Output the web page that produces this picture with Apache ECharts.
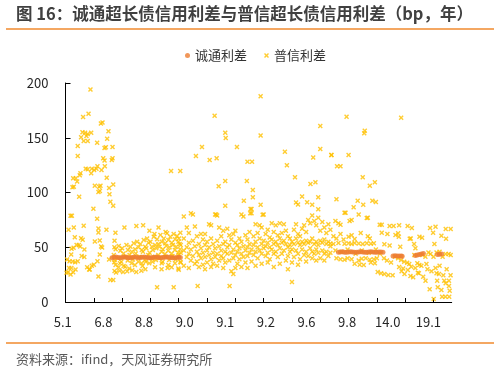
<!DOCTYPE html>
<html><head><meta charset="utf-8">
<script src="https://cdn.jsdelivr.net/npm/echarts@6/dist/echarts.min.js"></script>
<style>html,body{margin:0;padding:0;background:#fff}#c{width:499px;height:372px}</style>
</head><body><div id="c"></div>
<script>
// x-axis category labels (remaining maturity, years)
const xLabels = ['5.1','6.8','8.8','9.0','9.1','9.2','9.6','9.8','14.0','19.1'];
const yMin = 0, yMax = 200, yStep = 50;
const nCategories = 382;
const tickEvery = 28;

// 诚通利差 (bp) : [category index, spread]
const chengtongA = [[46,40.5],[48,40.8],[50,41],[52,40.6],[54,40.4],[56,40.7],[58,41.1],[60,40.9],[62,40.5],[64,40.3],[66,40.6],[68,41],[70,40.8],[72,40.5],[74,40.7],[76,40.9],[78,41.2],[80,40.8],[82,40.5],[84,40.4],[86,40.6],[88,40.9],[90,41],[92,40.7],[94,40.5],[96,40.6],[98,40.8],[100,41],[102,40.9],[104,40.6],[106,40.4],[108,40.5],[110,40.7],[112,40.9],[113.6,40.6]];
const chengtongB = [[270,45.5],[272,45.6],[274,45.8],[276,45.4],[278,45.5],[280,45.7],[282,45.9],[284,45.6],[286,45.4],[288,45.5],[290,45.7],[292,45.8],[294,45.6],[296,45.4],[298,45.5],[300,45.6],[302,45.8],[304,45.7],[306,45.5],[308,45.4],[310,45.6],[312,45.7],[314,45.5]];
const chengtongC = [[324,42],[326,42.2],[328,41.9],[330,42.1],[332,42],[333,41.8]];
const chengtongD = [[346,42.4],[348,42.9],[350,43.4],[352,43.9],[354,44.2]];
const chengtongE = [[368,43.4],[370,43.6],[372,43.8]];

// 普信利差 (bp) : [category index, spread]
const puxin1 = [[24.7,194],[22.8,172],[17.4,169],[35,163],[36.6,164],[42.5,156],[16.8,155],[19.4,154.6],[22,153.4],[25.4,154.6],[20.7,151.6],[18,147],[22,147],[12.1,142.5],[15.4,150.4],[31.3,145.5],[41.2,149],[39.9,141.3],[38.6,140.7],[46.5,141.6],[12.1,133.3],[37.3,131.3],[38.6,129.2],[38.9,124],[46.5,131.3],[45.8,129.7],[35.6,120.5],[20,121.8],[22,121.2],[30.6,121.8],[28.3,120.5],[31.6,124],[26,121.8],[14.8,117.5],[14.1,115.7],[25.4,117.5],[7.6,113],[10.2,113],[11.5,110],[8.2,105.3],[6.9,104.7],[34.6,106.2],[33.3,105.3],[40.8,113.5],[29,106.2],[47.2,107.4],[34,101.4],[32.6,100.4],[43.1,104],[13.5,96.2],[43.5,98.3],[44.4,91.6],[47.2,88],[27.6,85.2],[5,78.8],[6.3,78.8],[31.3,76],[3,66],[32.6,67.2],[32.6,63.5],[40.5,66],[18,69.6],[15.4,58.3],[17,56.8],[9.2,59.2],[13.2,52],[14.5,50.7],[33.9,56.2],[35.2,50.7],[36.2,49.8],[6,48.6],[8,49.5],[29,55.3],[1.6,38.8],[4,37.3],[2.6,27.2],[1,26.6],[5,25.1],[7.6,27.2],[9.9,29.6],[9.5,36.4],[5.6,43.4],[24,29.6],[26,33.2],[28,34.1],[21.4,31.7],[23.4,29.6],[32.6,23.2],[31.6,37.3],[33.9,43.4],[43.1,38.8],[44.4,20],[47.2,20],[48.5,28.2],[48.2,36.2],[49.4,63.3],[48.5,56],[12.1,37.3],[16,42],[18.6,41],[18.7,48],[8.2,68],[3.5,31],[5.8,31],[7,37],[11,52]];
const puxin2 = [[48.4,49.9],[49.6,48.1],[47.8,42.9],[48.6,38.4],[49.5,33.8],[52.7,51.1],[54.2,46.9],[51.9,39.9],[53.9,35.3],[52.5,31.7],[56,49],[57.4,44.4],[55.2,36.8],[57.5,32.9],[60.3,52.1],[61.8,47.5],[59.4,41.4],[61.5,37.8],[59.1,32.3],[64.2,50.5],[65.6,46],[63.4,42.9],[65.4,35.3],[63,30.7],[67.5,53.6],[68.9,48.1],[66.6,38.9],[68.7,33.8],[70.8,55.1],[72.2,49.9],[69.5,44.4],[72,36.8],[74.1,53],[75.5,47.5],[73.2,41.4],[75.3,35.3],[77.4,56.6],[78.8,50.5],[76.6,46],[78.6,38.4],[76.2,32.9],[80.7,58.1],[82.1,54.2],[79.9,49],[81.9,42.9],[79.5,36.8],[84,55.1],[85.4,50.5],[83.2,45],[85.2,39.9],[82.8,35.3],[87.3,59.7],[88.7,52.1],[86.4,47.5],[88.5,41.4],[86.1,36.8],[88.6,31.7],[90.6,57.2],[92,53],[89.8,49],[91.8,42.9],[89.4,38.4],[93.9,61.2],[95.3,55.1],[93,50.5],[95.1,46],[92.7,39.9],[95.2,35.3],[97.2,58.1],[98.6,53.6],[96.3,48.1],[98.4,43.8],[96,36.8],[100.4,62.7],[101.8,56.6],[99.6,51.1],[101.6,46.9],[99.2,41.4],[101.7,33.8],[103.7,59.7],[105.1,54.2],[102.9,49.9],[104.9,44.4],[102.5,38.4],[105,31.7],[107,62.1],[108.4,57.2],[106.2,52.1],[108.2,47.5],[105.8,42],[108.3,35.3],[110.3,60.3],[111.7,55.1],[109.5,50.5],[111.5,45],[109.1,38.9],[111.6,30.7],[113.6,63.3],[112.2,58.1],[112.9,53],[113.4,48.1],[112,42.9],[113.5,36.8],[50,27],[53.5,28.5],[57,27.5],[61,28],[66,29],[70,27.5],[75,28.5],[79,30],[58.3,68],[70.1,69.4],[76.8,70],[83,65],[88,62],[92,68],[99,64],[104.4,119.6],[90.6,13.4],[107,13.4],[95,30],[101,31],[112,29.5]];
const puxin3 = [[114,52],[114,45],[114,36],[117,78],[117,58],[117,47],[117,33],[120,68],[120,50],[120,41],[122,63],[122,54],[122,44],[122,31],[124,81],[124,48],[124,38],[126,80],[126,56],[126,42],[128,69],[128,51],[128,35],[130,60],[130,46],[130,37],[130.7,14.6],[132,53],[132,43],[132,32],[134,62],[134,49],[134,40],[136,57],[136,45],[136,34],[138,62],[138,52],[138,41],[138,30],[140,55],[140,47],[140,36],[142,71],[142,50],[142,43],[144,70],[144,58],[144,39],[144,32],[146,53],[146,45],[146,35],[148,80],[148,49],[148,41],[150,79],[150,56],[150,44],[150,33],[152,68],[152,51],[152,38],[154,60],[154,47],[154,42],[156,65],[156,53],[156,40],[156,31],[158,55],[158,46],[158,36],[160,67],[160,50],[160,44],[162,61],[162,52],[162,38],[162.3,14.6],[164,57],[164,45],[164,28],[166,62],[166,48],[166,40],[166,25.6],[168,65],[168,54],[168,43],[168,31],[170,52],[170,46],[170,35],[172,58],[172,49],[172,39],[174,80],[174,55],[174,44],[174,32],[176,78],[176,51],[176,41],[178,61],[178,47],[178,36],[180,57],[180,50],[180,42],[180,31],[182,64],[182,53],[182,45],[184,85],[184,81],[184,48],[184,37],[186,60],[186,52],[186,43],[188,71],[188,55],[188,46],[188,33],[190,63],[190,50],[190,40],[192,70],[192,58],[192,47],[194,68],[194,53],[194,44],[194,35],[196,80],[196,56],[196,49],[198,62],[198,51],[198,42],[200,66],[200,54],[200,45],[200,36],[202,59],[202,50],[202,39],[204,72],[204,57],[204,48],[206,64],[206,53],[206,44],[206,32],[208,70],[208,55],[208,46],[210,61],[210,52],[210,41],[212,72],[212,58],[212,49],[212,35],[214,63],[214,54],[214,44],[216,71],[216,56],[216,47],[218,65],[218,53],[218,38],[220,60],[220,50],[220,42],[220,30],[222,58],[222,52],[222,46],[224,18.3],[224,55],[224,48],[224,36],[226,66],[226,53],[226,41],[228,71],[228,58],[228,47],[230,62],[230,54],[230,44],[230,34],[232,60],[232,52],[232,39],[234,67],[234,55],[234,48],[236,70],[236,53],[236,43],[238,64],[238,56],[238,46],[238,37],[240,75],[240,54],[240,42],[242,72],[242,55],[242,49],[244,79],[244,58],[244,46],[244,40],[246,74],[246,53],[246,44],[248,70],[248,55],[248,48],[248,38],[250,77],[250,52],[250,45],[252,65],[252,56],[252,40],[254,73],[254,54],[254,47],[256,68],[256,57],[256,44],[256,38],[258,63],[258,53],[258,46],[260,71],[260,55],[260,42],[262,66],[262,51],[262,45]];
const puxin3High = [[193,188],[147.5,170],[158,154.6],[158.5,149.8],[193,152],[135,141.5],[169.6,141.5],[129,133.3],[142.6,129.7],[149.5,131.2],[180,128],[184.5,128],[217,137.3],[219,124.8],[245,132],[252,139.7],[252,160.7],[263,134.2],[268.6,123.9],[113.5,119.6],[158,110.5],[151.5,105.6],[179.4,110.5],[185.3,102.3],[185.3,95.6],[176.4,92.5],[227,113.9],[242.3,107.8],[247.2,109.3],[158,88],[193,88.9],[183,85],[182.7,81],[195,79.7],[149,80],[228,90.9],[230,89],[234,96.4],[239,91],[244,88.9],[250,95.6],[250,84.6]];
const puxin4 = [[278,169.2],[332,168.3],[296,156.4],[295.5,154],[263,134.2],[280,134.2],[272,124],[294,114],[306,109.3],[301,106.2],[268,93.8],[289,92.5],[285,86.5],[294.5,88.9],[303.5,92.5],[307,91.3],[277,81.5],[276,81.5],[290,80],[298,76.7],[299,77],[283,75],[281,74],[267,74],[270,72],[272,70.5],[310.8,70.6],[312.8,70.6],[320.6,69.4],[324.5,69.4],[330,70],[338.4,69.4],[342.6,67.6],[360.6,67.6],[366,68.8],[376.1,66.7],[381,66.7],[265,60],[268,58],[272,62],[275,57],[280,59.5],[283,61],[286,57.5],[292,63],[299,60],[301,58],[312.8,63.3],[318.4,62.1],[326.4,61.2],[329,62.7],[329.7,59.6],[340.5,57.8],[341.5,58.1],[350.1,59.6],[352.7,58.7],[363.6,63.3],[371.8,60.5],[376.4,57.8],[262,53.5],[265,53],[270,53.8],[276,53.2],[280,53.6],[283,53],[286,53.8],[290,53.4],[294,53],[298,53.6],[302,53.2],[305,53.6],[315.4,52.7],[320.6,51.5],[331.1,50.5],[344.8,53],[346.1,49.1],[364.9,53],[267,47],[273,46],[279,48],[287,44],[293,47],[300,45],[307,48],[311,44],[268,40],[272,39],[276,38.5],[279,40],[283,39],[290,38],[293,39.5],[297,40],[301,38.5],[305,39],[308,40],[286,35],[291,34],[295,33.8],[302,36],[306,35.5],[315,40],[318,38],[322,36],[326,41.4],[329,39.9],[332,38.4],[335,36.8],[338,35.9],[340,34.7],[342,32.3],[345,42.9],[348,35.3],[350,33.8],[353,42.9],[356,41.4],[357,34.7],[359,45.1],[361,43.8],[364,41.4],[367,45.1],[370,46],[373,41.4],[376,43.8],[379,43.8],[381,43],[308.8,27.4],[312.1,26.2],[315.4,25.6],[319.3,24.7],[323.6,24.4],[332.4,28],[335.3,25.6],[338.6,29.2],[341.2,23.7],[343.9,22.5],[348.5,26.8],[349.5,26.2],[353.8,23.1],[356.1,19.5],[367,26.2],[369.4,25.6],[374.6,19.5],[379.3,19.5],[373.7,24.4],[380.9,24.4],[376,17.1],[379.3,14.6],[367.6,19.5],[360.2,11.6],[364.2,2.7],[368.2,13.4],[371.8,11],[380,10.3],[372.5,4.9],[375.8,4.9],[379.5,4.9],[330,32],[334,30.5],[346,31],[352,33],[358,30],[362,28],[366,31],[370,33],[377,30]];

const chengtong = [].concat(chengtongA, chengtongB, chengtongC, chengtongD, chengtongE);
const puxin = [].concat(puxin1, puxin2, puxin3, puxin3High, puxin4);

const ORANGE = '#ED7D31', GOLD = '#FFC000';
const xMark = 'path://M0,2L2,0L5,3L8,0L10,2L7,5L10,8L8,10L5,7L2,10L0,8L3,5Z';
const FONT = '"Noto Sans CJK SC", "Noto Sans", sans-serif';
const tickValues = [];
for (let v = 0; v < nCategories; v += tickEvery) tickValues.push(v);

const chart = echarts.init(document.getElementById('c'), null, {renderer: 'canvas'});
chart.setOption({
  animation: false,
  backgroundColor: '#fff',
  textStyle: {fontFamily: FONT},
  graphic: [
    {type: 'text', left: 16, top: 5, style: {text: '图 16：诚通超长债信用利差与普信超长债信用利差（bp，年）', font: 'bold 16.5px ' + FONT, fill: '#404040'}},
    {type: 'line', shape: {x1: 6, y1: 29, x2: 494, y2: 29}, style: {stroke: '#F08A2E', lineWidth: 1.5}},
    {type: 'line', shape: {x1: 6, y1: 343, x2: 494, y2: 343}, style: {stroke: '#F08A2E', lineWidth: 1.5}},
    {type: 'text', left: 16, top: 353, style: {text: '资料来源：ifind，天风证券研究所', font: '13px ' + FONT, fill: '#595959'}}
  ],
  legend: {
    top: 44, left: 180,
    itemWidth: 5, itemHeight: 5, itemGap: 17,
    textStyle: {fontSize: 13, color: '#333', fontFamily: FONT},
    data: [{name: '诚通利差', icon: 'circle'}, {name: '普信利差', icon: xMark}]
  },
  grid: {left: 65.5, right: 47.3, top: 83, bottom: 70, containLabel: false, outerBoundsMode: 'none'},
  xAxis: [
    {type: 'value', min: 0, max: nCategories, interval: tickEvery,
     axisLine: {show: true, lineStyle: {color: '#000', width: 1}},
     axisTick: {show: true, inside: true, length: 4, customValues: tickValues, lineStyle: {color: '#000'}},
     axisLabel: {show: false}, splitLine: {show: false}},
    {type: 'value', min: 0, max: 9.508, interval: 1, position: 'bottom',
     axisLine: {show: false}, axisTick: {show: false}, splitLine: {show: false},
     axisLabel: {show: true, margin: 14, fontSize: 13, color: '#262626', fontFamily: FONT, padding: [0, 5.4, 0, 0],
       showMaxLabel: false,
       formatter: function (v) { const r = Math.round(v); return Math.abs(v - r) < 1e-6 && xLabels[r] !== undefined ? xLabels[r] : ''; }}}
  ],
  yAxis: {type: 'value', min: yMin, max: yMax, interval: yStep,
    axisLine: {show: true, lineStyle: {color: '#000', width: 1}},
    axisTick: {show: true, inside: true, length: 5, lineStyle: {color: '#000'}},
    axisLabel: {margin: 17, fontSize: 13, color: '#262626', fontFamily: FONT},
    splitLine: {show: false}},
  series: [
    {name: '诚通利差', type: 'scatter', xAxisIndex: 0, data: chengtong, symbol: 'circle', symbolSize: 5, z: 3,
     itemStyle: {color: ORANGE}},
    {name: '普信利差', type: 'scatter', xAxisIndex: 0, data: puxin, symbol: xMark, symbolSize: 5, z: 2,
     itemStyle: {color: GOLD}}
  ]
});
</script></body></html>
